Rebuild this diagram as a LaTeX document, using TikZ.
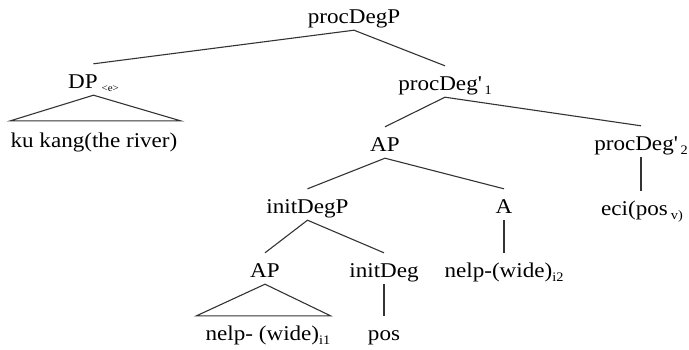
\documentclass[tikz,border=0pt]{standalone}
\usepackage{fontspec}
\setmainfont[FakeStretch=1.1]{Liberation Serif}
\newcommand\lowsub[1]{\raisebox{-4.5pt}{\fontsize{13}{13}\selectfont #1}}
\newcommand\tinysub[1]{\raisebox{-3pt}{\fontsize{10}{10}\selectfont #1}}
\begin{document}
\begin{tikzpicture}[x=1pt,y=-1pt,
  tnode/.style={anchor=base, inner sep=0pt, text height=24pt, text depth=7pt,
    font=\fontsize{21}{24}\selectfont, text=black},
  edge/.style={draw=black!80, line width=1.1pt}]
\useasboundingbox (0,0) rectangle (689,349);
\node[tnode] (root) at (354,23) {procDegP};
\node[tnode] (dp) at (93.5,88) {DP\hspace{4pt}\tinysub{<e>}};
\node[tnode] (river) at (94,147) {ku kang(the river)};
\node[tnode] (pd1) at (445,90) {procDeg\textquotesingle\hspace{3pt}\lowsub{1}};
\node[tnode] (ap1) at (385,151) {AP};
\node[tnode] (pd2) at (641,150) {procDeg\textquotesingle\hspace{3pt}\lowsub{2}};
\node[tnode] (eci) at (642,215) {eci(pos\hspace{3pt}\lowsub{v)}};
\node[tnode] (idp) at (307.5,213) {initDegP};
\node[tnode] (a) at (504,213) {A};
\node[tnode] (nw2) at (504,277) {nelp-(wide)\lowsub{i2}};
\node[tnode] (ap2) at (265,277) {AP};
\node[tnode] (id) at (384,277) {initDeg};
\node[tnode] (nw1) at (268,340) {nelp- (wide)\lowsub{i1}};
\node[tnode] (pos) at (384,340) {pos};
\draw[edge] (dp.north) -- (root.south) -- (pd1.north);
\draw[edge] (dp.south) -- ([yshift=2pt]river.north west) -- ([xshift=3pt,yshift=2pt]river.north east) -- cycle;
\draw[edge] (ap1.north) -- (pd1.south) -- (pd2.north);
\draw[edge] (pd2.south) -- (pd2.south |- eci.north);
\draw[edge] (idp.north) -- (ap1.south) -- (a.north);
\draw[edge] (a.south) -- (a.south |- nw2.north);
\draw[edge] (ap2.north) -- (idp.south) -- (id.north);
\draw[edge] (ap2.south) -- ([xshift=-9pt]nw1.north west) -- (nw1.north east) -- cycle;
\draw[edge] (id.south) -- (id.south |- pos.north);
\end{tikzpicture}
\end{document}
